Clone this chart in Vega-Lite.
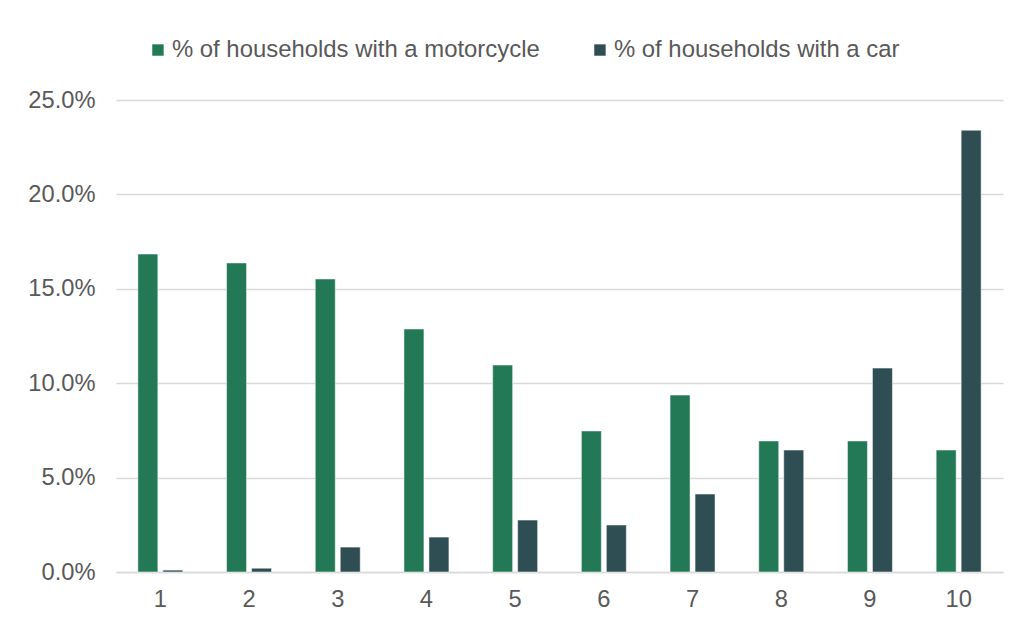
{
  "$schema": "https://vega.github.io/schema/vega-lite/v6.json",
  "width": 887,
  "height": 472,
  "autosize": {"type": "none"},
  "padding": {"left": 116, "top": 100, "right": 12, "bottom": 48},
  "background": "#ffffff",
  "config": {
    "font": "Liberation Sans",
    "view": {"stroke": null},
    "axis": {"labelFont": "Liberation Sans", "labelColor": "#595959", "labelFontSize": 23.7}
  },
  "data": {
    "values": [
      {"decile": "1", "series": "% of households with a motorcycle", "value": 0.1684},
      {"decile": "1", "series": "% of households with a car", "value": 0.001},
      {"decile": "2", "series": "% of households with a motorcycle", "value": 0.1637},
      {"decile": "2", "series": "% of households with a car", "value": 0.002},
      {"decile": "3", "series": "% of households with a motorcycle", "value": 0.1552},
      {"decile": "3", "series": "% of households with a car", "value": 0.0132},
      {"decile": "4", "series": "% of households with a motorcycle", "value": 0.1287},
      {"decile": "4", "series": "% of households with a car", "value": 0.0185},
      {"decile": "5", "series": "% of households with a motorcycle", "value": 0.1096},
      {"decile": "5", "series": "% of households with a car", "value": 0.0275},
      {"decile": "6", "series": "% of households with a motorcycle", "value": 0.0747},
      {"decile": "6", "series": "% of households with a car", "value": 0.0249},
      {"decile": "7", "series": "% of households with a motorcycle", "value": 0.0937},
      {"decile": "7", "series": "% of households with a car", "value": 0.0413},
      {"decile": "8", "series": "% of households with a motorcycle", "value": 0.0694},
      {"decile": "8", "series": "% of households with a car", "value": 0.0646},
      {"decile": "9", "series": "% of households with a motorcycle", "value": 0.0694},
      {"decile": "9", "series": "% of households with a car", "value": 0.108},
      {"decile": "10", "series": "% of households with a motorcycle", "value": 0.0646},
      {"decile": "10", "series": "% of households with a car", "value": 0.234}
    ]
  },
  "mark": {"type": "bar", "stroke": "#ffffff", "strokeWidth": 1, "strokeOpacity": 0.5},
  "encoding": {
    "x": {
      "field": "decile",
      "type": "ordinal",
      "sort": null,
      "scale": {"paddingInner": 0.493, "paddingOuter": 0.2465},
      "axis": {
        "title": null,
        "labelAngle": 0,
        "ticks": false,
        "domain": true,
        "domainColor": "#D9D9D9",
        "domainWidth": 1.5,
        "labelPadding": 15,
        "grid": false
      }
    },
    "xOffset": {
      "field": "series",
      "type": "nominal",
      "sort": ["% of households with a motorcycle", "% of households with a car"],
      "scale": {"paddingInner": 0.2, "paddingOuter": 0}
    },
    "y": {
      "field": "value",
      "type": "quantitative",
      "scale": {"domain": [0, 0.25], "nice": false},
      "axis": {
        "title": null,
        "format": ".1%",
        "values": [0, 0.05, 0.1, 0.15, 0.2, 0.25],
        "ticks": false,
        "domain": false,
        "grid": true,
        "gridColor": "#D9D9D9",
        "gridWidth": 1.5,
        "labelPadding": 21
      }
    },
    "color": {
      "field": "series",
      "type": "nominal",
      "scale": {
        "domain": ["% of households with a motorcycle", "% of households with a car"],
        "range": ["#237856", "#2F4E54"]
      },
      "legend": {
        "title": null,
        "orient": "none",
        "direction": "horizontal",
        "legendX": 30,
        "legendY": -62,
        "symbolType": "square",
        "symbolSize": 130,
        "symbolStrokeWidth": 0,
        "labelFontSize": 23.9,
        "labelLimit": 0,
        "labelColor": "#595959",
        "labelFont": "Liberation Sans",
        "labelOffset": 2,
        "columnPadding": 48
      }
    }
  }
}
